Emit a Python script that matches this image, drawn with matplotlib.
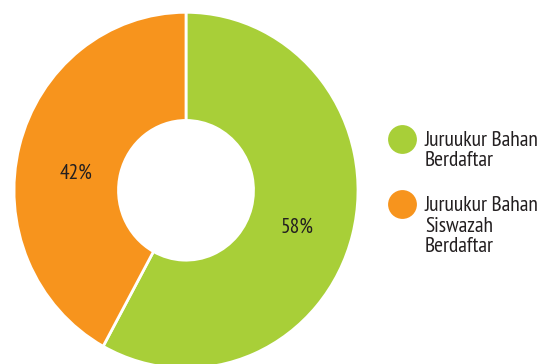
import matplotlib
matplotlib.use("Agg")
import matplotlib.pyplot as plt

plt.rcParams['font.family'] = ['PT Sans Narrow', 'DejaVu Sans']

# data
labels = ['Juruukur Bahan\nBerdaftar', 'Juruukur Bahan\nSiswazah\nBerdaftar']
values = [58, 42]
colors = ['#A8CF38', '#F7941D']
txtcol = '#231F20'

W, H = 543, 364
fig = plt.figure(figsize=(W / 100, H / 100), dpi=100)

# donut is slightly taller than wide in the reference
ax = fig.add_axes([14 / W, -4.3 / H, 344 / W, 356 / H])
wedges, texts, autotexts = ax.pie(
    values, colors=colors, startangle=90, counterclock=False,
    autopct='%d%%', pctdistance=0.66,
    wedgeprops=dict(width=1 - 67.5 / 172, edgecolor='white', linewidth=2),
    textprops=dict(color=txtcol, fontsize=15.5))
ax.set_aspect('auto')
ax.set_xlim(-1, 1)
ax.set_ylim(-1, 1)
# labels sit a bit lower than the mid-angle in the original
autotexts[0].set_position((0.645, -0.205))
autotexts[1].set_position((-0.64, 0.098))

# legend drawn in pixel coordinates
lax = fig.add_axes([0, 0, 1, 1])
lax.set_xlim(0, W)
lax.set_ylim(H, 0)
lax.axis('off')
leg_y = [139, 204]
for lab, c, y in zip(labels, colors, leg_y):
    lax.scatter([402], [y], s=28 ** 2 * 0.55, color=c, linewidths=0)
    lax.text(425, y - 8, lab, color=txtcol, fontsize=15.5, va='top',
             ha='left', linespacing=1.1)

fig.savefig('out.png', dpi=100)
